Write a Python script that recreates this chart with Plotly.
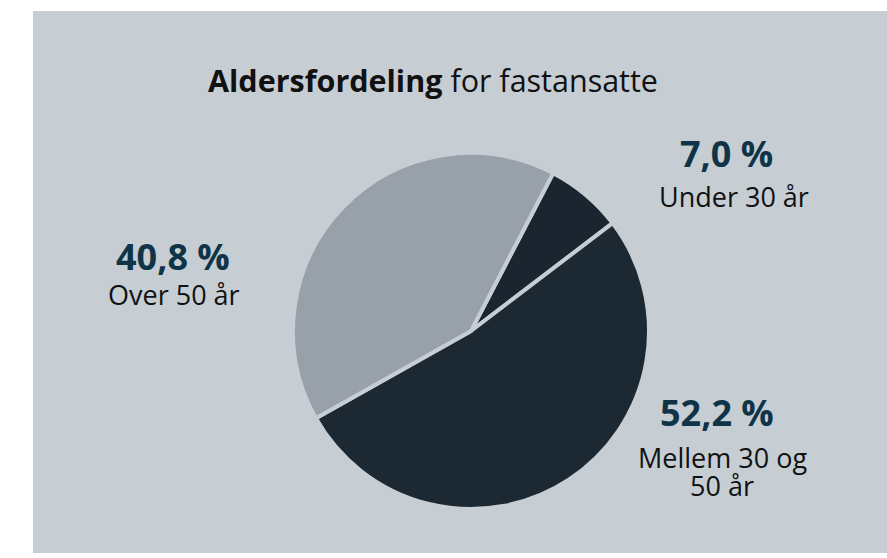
import plotly.graph_objects as go

# Data
categories = ["Under 30 år", "Mellem 30 og<br>50 år", "Over 50 år"]
values = [7.0, 52.2, 40.8]
colors = ["#1a252f", "#1c2832", "#98a1a9"]

title_bold = "Aldersfordeling"
title_rest = " for fastansatte"

W, H = 887, 558
BG = "#c6ced4"
FONT = "Open Sans"
LINE_GAP = 28


def px(x):
    return x / W


def py(y):
    return 1 - y / H


def fmt(v):
    return f"{v:.1f}".replace(".", ",") + " %"


fig = go.Figure()
fig.add_trace(go.Pie(
    labels=categories,
    values=values,
    sort=False,
    direction="clockwise",
    rotation=27.5,
    marker=dict(colors=colors, line=dict(color=BG, width=4)),
    textinfo="none",
    hoverinfo="skip",
    showlegend=False,
    domain=dict(x=[px(293), px(649)], y=[py(509), py(153)]),
))

# label positions (pixel centres) for percent and first category line
label_pos = [
    ((726, 153), (734, 196)),
    ((717, 412), (722, 457)),
    ((173, 256), (174, 294)),
]

annotations = []
for cat, val, ((x1, y1), (x2, y2)) in zip(categories, values, label_pos):
    annotations.append(dict(
        x=px(x1), y=py(y1), xref="paper", yref="paper",
        text=f"<b>{fmt(val)}</b>", showarrow=False,
        xanchor="center", yanchor="middle",
        font=dict(family=FONT, size=36, color="#0f3447"),
    ))
    for i, line in enumerate(cat.split("<br>")):
        annotations.append(dict(
            x=px(x2), y=py(y2 + i * LINE_GAP), xref="paper", yref="paper",
            text=line, showarrow=False, align="center",
            xanchor="center", yanchor="middle",
            font=dict(family=FONT, size=27, color="#111111"),
        ))

annotations.append(dict(
    x=px(433), y=py(80), xref="paper", yref="paper",
    text=f"<b>{title_bold}</b>{title_rest}", showarrow=False,
    xanchor="center", yanchor="middle",
    font=dict(family=FONT, size=30.5, color="#111111"),
))

fig.update_layout(
    width=W, height=H,
    margin=dict(l=0, r=0, t=0, b=0),
    paper_bgcolor="white",
    plot_bgcolor="white",
    shapes=[dict(type="rect", xref="paper", yref="paper",
                 x0=px(33), x1=1, y0=py(553), y1=py(11),
                 fillcolor=BG, line=dict(width=0), layer="below")],
    annotations=annotations,
)

fig.write_html(
    "out.html",
    config={"displayModeBar": False},
    post_script="document.body.style.margin='0';document.body.style.overflow='hidden';",
)
